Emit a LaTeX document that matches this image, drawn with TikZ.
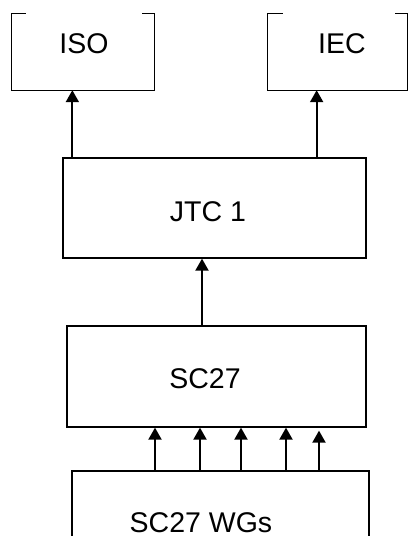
\documentclass[tikz,border=0pt]{standalone}
\usepackage{fontspec}
\setmainfont{Liberation Sans}
\usetikzlibrary{arrows.meta}
\begin{document}
\begin{tikzpicture}[x=1pt,y=-1pt,
  box/.style={draw=black,line width=1.3pt,rectangle,inner sep=0pt},
  openbox/.style={rectangle,inner sep=0pt},
  lbl/.style={anchor=base,inner sep=0pt,font=\fontsize{28.5pt}{30pt}\selectfont},
  arr/.style={line width=2pt,-{Triangle[length=12pt,width=13pt]}}]
\clip (0,0) rectangle (409,536);
\useasboundingbox (0,0) rectangle (409,536);
\fill[white] (0,0) rectangle (409,536);
% ISO and IEC boxes: top edge only partly drawn
\node[openbox,minimum width=142pt,minimum height=76pt] (iso) at (83,52) {};
\node[openbox,minimum width=139pt,minimum height=76pt] (iec) at (337.5,52) {};
\draw[line width=1.3pt] ([xshift=14pt]iso.north west) -- (iso.north west) -- (iso.south west)
  -- (iso.south east) -- (iso.north east) -- ([xshift=-12pt]iso.north east);
\draw[line width=1.3pt] ([xshift=15pt]iec.north west) -- (iec.north west) -- (iec.south west)
  -- (iec.south east) -- (iec.north east) -- ([xshift=-12pt]iec.north east);
\node[box,minimum width=303pt,minimum height=100pt] (jtc) at (214.5,208) {};
\node[box,minimum width=299pt,minimum height=101pt] (sc) at (216.5,376.5) {};
\node[box,minimum width=297pt,minimum height=98pt] (wgs) at (220.5,520) {};
% labels
\node[lbl] (isot) at (84,53) {ISO};
\node[lbl] (iect) at (342,53) {IEC};
\node[lbl] (jtct) at (208,221) {JTC 1};
\node[lbl] (sct) at (205,388) {SC27};
\node[lbl] (wgst) at (201,532) {SC27 WGs};
% arrows
\draw[arr] ([xshift=10pt]jtc.north west) -- ([xshift=10pt]jtc.north west |- iso.south);
\draw[arr] ([xshift=-50pt]jtc.north east) -- ([xshift=-50pt]jtc.north east |- iec.south);
\draw[arr] ([xshift=-14.5pt]sc.north) -- ([xshift=-14.5pt]sc.north |- jtc.south);
\foreach \dx/\nm in {-65.5/a,-20.5/b,20.5/c,65.5/d} {
  \draw[arr] ([xshift=\dx pt]wgs.north) -- ([xshift=\dx pt]wgs.north |- sc.south);
}
\draw[arr] ([xshift=98.5pt]wgs.north) -- ([xshift=98.5pt,yshift=-3pt]wgs.north |- sc.south);
\end{tikzpicture}
\end{document}
